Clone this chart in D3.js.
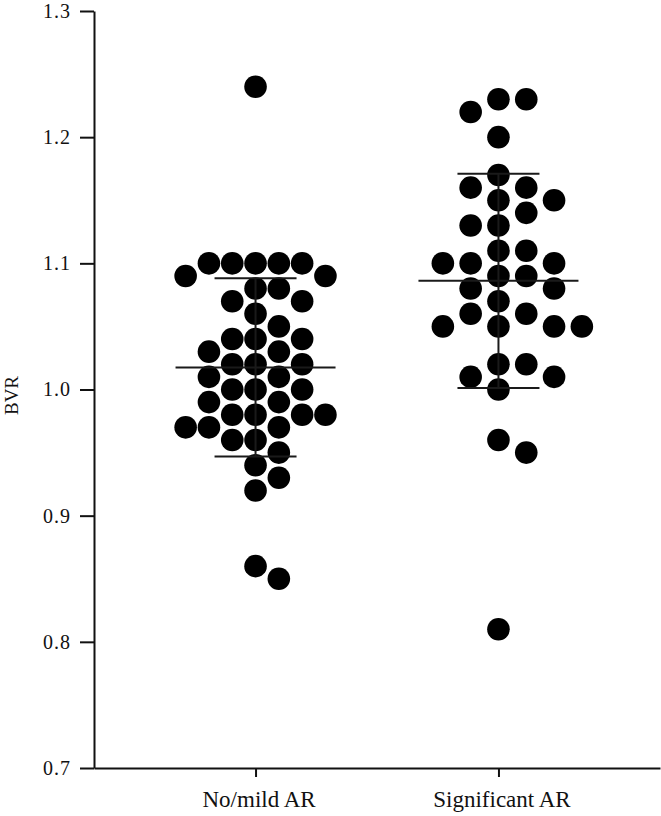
<!DOCTYPE html>
<html>
<head>
<meta charset="utf-8">
<script src="https://cdn.jsdelivr.net/npm/d3@7"></script>
<style>
  body { margin: 0; background: #fff; }
  svg { display: block; }
</style>
</head>
<body>
<div id="chart"></div>
<script>
// 分组
const groups = ['No/mild AR', 'Significant AR'];

// BVR values
const noMildAR = [
  1.24,
  1.10, 1.10, 1.10, 1.10, 1.10,
  1.09, 1.09, 1.08, 1.08, 1.07, 1.07, 1.06, 1.05,
  1.04, 1.04, 1.04, 1.03, 1.03, 1.02, 1.02, 1.02,
  1.01, 1.01, 1.00, 1.00, 1.00, 0.99, 0.99,
  0.98, 0.98, 0.98, 0.98, 0.97, 0.97, 0.97, 0.96, 0.96,
  0.95, 0.94, 0.93, 0.92,
  0.86, 0.85
];
const significantAR = [
  1.23, 1.23, 1.22, 1.20, 1.17, 1.16, 1.16, 1.15, 1.15, 1.14,
  1.13, 1.13, 1.11, 1.11, 1.10, 1.10, 1.10, 1.09, 1.09,
  1.08, 1.08, 1.07, 1.06, 1.06, 1.05, 1.05, 1.05, 1.05,
  1.02, 1.02, 1.01, 1.01, 1.00, 0.96, 0.95, 0.81
];
const yTicks = [0.7, 0.8, 0.9, 1.0, 1.1, 1.2, 1.3];

const width = 661, height = 816;
const margin = { top: 11, right: 1, bottom: 48, left: 94 };
const r = 11.3;
const colStep = [23.3, 27.8];  // 两组点的列间距不一样
const font = '"Liberation Serif", "DejaVu Serif", serif';

const svg = d3.select('#chart').append('svg')
  .attr('width', width)
  .attr('height', height);

const x = d3.scalePoint()
  .domain(groups)
  .range([margin.left, width - margin.right])
  .padding(0.665);

const y = d3.scaleLinear()
  .domain([0.7, 1.3])
  .range([height - margin.bottom, margin.top]);

// simple beeswarm on a half-column grid: highest value first, nearest free slot to the centre
function swarm(values, step) {
  const placed = [];
  const sorted = values.slice().sort((a, b) => b - a);
  const cands = [0];
  for (let k = 0.5; k <= 6; k += 0.5) cands.push(k, -k);
  sorted.forEach(v => {
    const cy = y(v);
    const o = cands.find(c => placed.every(p => {
      const dx = (c - p.o) * step, dy = cy - p.cy;
      return dx * dx + dy * dy >= (2 * r - 0.6) ** 2;
    }));
    placed.push({ v, o, cy });
  });
  return placed;
}

const series = [noMildAR, significantAR];

// 坐标轴
const yAxis = svg.append('g')
  .attr('transform', `translate(${margin.left},0)`)
  .call(d3.axisLeft(y).tickValues(yTicks).tickFormat(d3.format('.1f'))
    .tickSize(14).tickSizeOuter(0).tickPadding(9));

const xAxis = svg.append('g')
  .attr('transform', `translate(0,${height - margin.bottom})`)
  .call(d3.axisBottom(x).tickSize(9).tickSizeOuter(0).tickPadding(14));

[yAxis, xAxis].forEach(g => {
  g.select('.domain').attr('stroke', '#111').attr('stroke-width', 2);
  g.selectAll('.tick line').attr('stroke', '#111').attr('stroke-width', 2);
  g.selectAll('text')
    .attr('fill', '#111')
    .style('font-family', font);
});
yAxis.selectAll('text').style('font-size', '20px').style('letter-spacing', '1px');
xAxis.selectAll('text').style('font-size', '23px').attr('dx', 3);

svg.append('text')
  .attr('transform', `translate(18,${y(1.0) + 6}) rotate(-90)`)
  .attr('text-anchor', 'middle')
  .style('font-family', font)
  .style('font-size', '19px')
  .attr('fill', '#111')
  .text('BVR');

// points
series.forEach((vals, i) => {
  const cx = x(groups[i]);
  svg.append('g')
    .selectAll('circle')
    .data(swarm(vals, colStep[i]))
    .join('circle')
    .attr('cx', d => cx + d.o * colStep[i])
    .attr('cy', d => d.cy)
    .attr('r', r)
    .attr('fill', '#000');
});

// mean ± SD
series.forEach((vals, i) => {
  const cx = x(groups[i]);
  const m = d3.mean(vals), sd = d3.deviation(vals);
  const g = svg.append('g')
    .attr('stroke', '#1a1a1a')
    .attr('stroke-width', 2);
  g.append('line')
    .attr('x1', cx - 80).attr('x2', cx + 80)
    .attr('y1', y(m)).attr('y2', y(m));
  g.append('line')
    .attr('x1', cx).attr('x2', cx)
    .attr('y1', y(m + sd)).attr('y2', y(m - sd));
  [m + sd, m - sd].forEach(v => {
    g.append('line')
      .attr('x1', cx - 41).attr('x2', cx + 41)
      .attr('y1', y(v)).attr('y2', y(v));
  });
});
</script>
</body>
</html>
